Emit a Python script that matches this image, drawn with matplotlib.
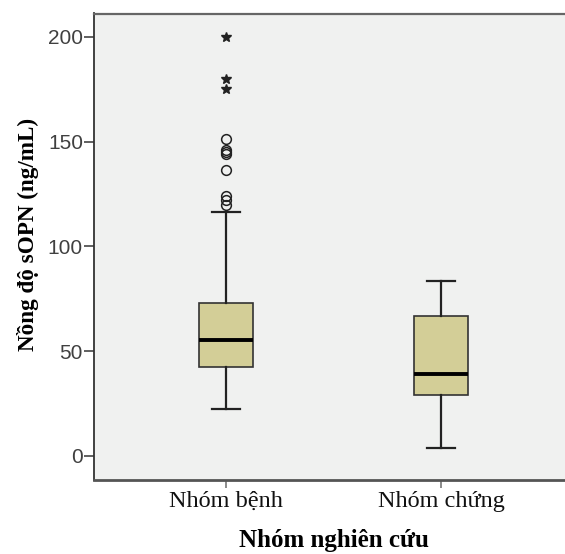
import matplotlib
matplotlib.use("Agg")
import matplotlib.pyplot as plt

categories = ["Nhóm bệnh", "Nhóm chứng"]
whislo = [22.4, 3.7]
q1 = [42.5, 29.0]
med = [55.4, 39.0]
q3 = [73.0, 67.0]
whishi = [116.4, 83.5]
outliers_circle = [[151.2, 146.0, 145.0, 144.0, 136.4, 124.0, 122.0, 120.0], []]
outliers_star = [[200.0, 180.0, 175.0], []]
yticks = [0, 50, 100, 150, 200]

fig = plt.figure(figsize=(5.65, 5.54), dpi=100)
ax = fig.add_axes([94/565, 1-480/554, 1-94/565, (480-13.5)/554])
ax.set_facecolor("#f0f1f0")

stats = []
for i in range(2):
    stats.append(dict(whislo=whislo[i], q1=q1[i], med=med[i], q3=q3[i],
                      whishi=whishi[i], fliers=[], label=categories[i]))
pos = [1, 2]
ax.bxp(stats, positions=pos, widths=0.251, patch_artist=True, showfliers=False,
       boxprops=dict(facecolor="#d3ce97", edgecolor="#333333", linewidth=1.2),
       medianprops=dict(color="black", linewidth=2.8),
       whiskerprops=dict(color="#222222", linewidth=1.6),
       capprops=dict(color="#222222", linewidth=1.6),
       capwidths=0.126)
for i in range(2):
    if outliers_circle[i]:
        ax.plot([pos[i]]*len(outliers_circle[i]), outliers_circle[i], 'o',
                mfc='none', mec='#222222', ms=7, mew=1.1, zorder=4)
    if outliers_star[i]:
        ax.plot([pos[i]]*len(outliers_star[i]), outliers_star[i], '*',
                color='#222222', ms=7, zorder=4)

ax.set_xlim(0.386, 2.577)
ax.set_ylim(-11.5, 211.2)
ax.set_yticks(yticks)
ax.set_yticklabels([str(t) for t in yticks], fontfamily="Liberation Sans",
                   fontsize=15, color="#404040")
ax.set_xticks(pos)
ax.set_xticklabels(categories, fontfamily="Liberation Serif", fontsize=17.5,
                   color="#111111")
ax.tick_params(axis='y', length=7, width=1.2, color="#444444", pad=1)
ax.tick_params(axis='x', length=6, width=1.2, color="#777777", pad=2)

ax.spines["right"].set_visible(False)
ax.spines["left"].set_color("#333333")
ax.spines["left"].set_linewidth(1.3)
ax.spines["bottom"].set_color("#555555")
ax.spines["bottom"].set_linewidth(2.0)
ax.spines["top"].set_color("#666666")
ax.spines["top"].set_linewidth(1.6)

ax.set_ylabel("Nồng độ sOPN (ng/mL)", fontfamily="Liberation Serif",
              fontweight="bold", fontsize=16.7)
ax.yaxis.set_label_coords(-0.117, 0.526)
ax.set_xlabel("Nhóm nghiên cứu", fontfamily="Liberation Serif",
              fontweight="bold", fontsize=18, va="baseline")
ax.xaxis.set_label_coords((334-94)/471, (480-547)/466.5)

fig.savefig("out.png", dpi=100)
